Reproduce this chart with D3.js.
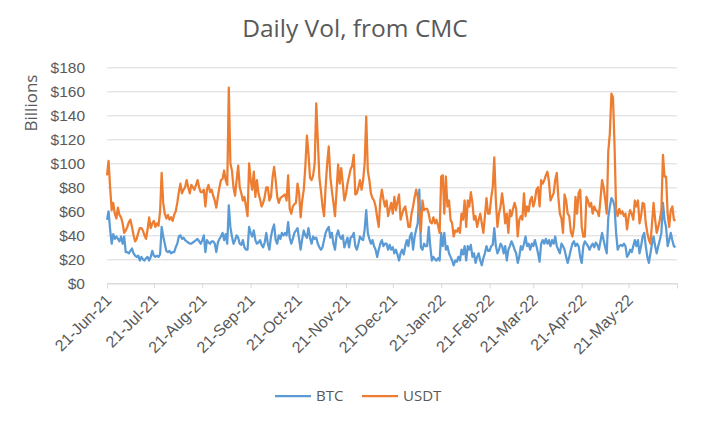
<!DOCTYPE html>
<html>
<head>
<meta charset="utf-8">
<script src="https://cdn.jsdelivr.net/npm/d3@7"></script>
<style>
  body { margin: 0; background: #fff; }
  svg { font-family: "Open Sans", sans-serif; }
  .grid line { stroke: #d9d9d9; }
  .tick text { fill: #595959; }
</style>
</head>
<body>
<div id="viz"></div>
<script>

// daily volume in $ billions, one value per day from 21-Jun-21
var startDate = new Date(2021, 5, 21);
var endDate = new Date(2022, 5, 21);

var seriesNames = ["BTC", "USDT"];
var seriesColors = ["#5b9bd5", "#ed7d31"];

var btc = [
	53,60,45,33,41,37,39,37,35,39, 33,39,26,26,25,27,29,25,23,22,
	23,19,22,20,19,21,22,19,22,27, 23,22,23,22,24,47,39,33,27,26,
	27,25,26,26,30,33,39,40,37,38, 36,35,34,33,33,34,35,36,37,35,
	33,36,40,26,36,34,33,35,35,33, 26,34,37,39,42,36,41,33,65,47,
	39,33,36,40,38,33,32,36,30,28, 28,47,42,39,44,36,33,34,36,32,
	30,34,42,33,28,39,45,49,36,33, 40,37,42,40,42,40,51,38,33,37,
	42,44,46,37,28,37,44,40,38,46, 38,33,39,37,38,33,30,28,30,36,
	42,45,47,38,42,33,28,40,44,39, 37,40,30,34,38,30,38,39,42,31,
	28,33,39,37,36,45,61,42,37,33, 36,31,28,22,28,33,36,31,33,33,
	28,32,28,30,25,28,24,19,25,28, 24,31,36,31,39,42,28,39,45,50,
	78,30,28,33,31,31,47,31,19,22, 20,19,21,19,42,31,42,28,31,25,
	22,19,15,19,18,22,19,28,24,31, 19,31,28,32,22,25,17,22,25,19,
	15,21,25,31,27,27,31,32,46,31, 25,28,33,31,25,31,19,28,31,35,
	32,28,25,17,22,31,28,33,39,31, 33,28,33,31,36,31,25,18,33,36,
	33,37,33,36,31,36,33,39,31,28, 25,33,31,28,22,17,22,28,33,35,
	31,33,31,22,17,31,35,33,31,28, 31,33,30,34,32,28,35,42,36,30,
	25,55,64,71,69,64,42,28,31,32, 31,33,31,22,24,28,26,31,36,31,
	36,25,31,39,42,31,22,17,25,33, 39,31,25,31,36,42,67,53,47,31,
	36,42,36,31,30
];

var usdt = [
	90,102,80,61,67,58,54,63,57,55, 50,42,44,47,51,53,47,40,35,37,
	42,46,46,44,40,37,45,55,46,50, 52,47,50,48,60,92,67,58,54,57,
	53,55,52,57,60,67,76,83,75,78, 80,86,80,75,82,80,78,82,86,80,
	76,76,78,64,78,82,76,78,73,69, 63,72,80,86,87,94,86,82,163,100,
	94,80,73,86,98,80,75,69,72,64, 56,100,86,78,93,72,86,75,70,64,
	67,72,80,80,69,72,88,97,86,72, 67,71,72,73,74,69,90,62,58,64,
	66,67,83,75,55,69,78,97,123,108, 88,86,90,100,150,119,88,77,64,56,
	80,100,114,89,77,67,56,77,99,83, 96,83,69,74,83,89,95,98,107,74,
	75,80,86,78,86,100,139,94,86,75, 71,69,64,55,47,69,78,70,64,69,
	56,62,67,58,72,61,68,74,53,58, 62,64,56,47,47,58,64,72,78,72,
	60,43,69,61,62,62,58,51,50,55, 50,53,48,42,89,90,58,89,64,69,
	53,50,39,44,43,46,42,58,53,69, 47,69,64,76,67,53,56,47,53,58,
	50,42,56,71,58,58,71,80,105,69, 47,58,64,75,64,50,58,42,61,56,
	62,67,62,39,53,56,53,75,56,64, 60,69,72,64,69,78,80,64,86,83,
	86,90,93,85,69,72,75,86,92,72, 58,54,42,74,69,58,56,43,39,47,
	72,58,75,78,47,39,39,72,69,64, 67,58,64,61,60,56,70,86,80,70,
	58,110,125,158,155,115,62,56,62,58, 60,56,58,45,55,61,58,53,69,64,
	69,50,56,67,66,50,42,36,33,50, 67,53,42,47,53,61,107,89,89,58,
	47,61,64,53,52
];

var yTicks = [0, 20, 40, 60, 80, 100, 120, 140, 160, 180];

var width = 713;
var height = 423;
var plotLeft = 107, plotRight = 677, plotTop = 67.3, plotBottom = 283.3;

var svg = d3.select("#viz")
	.append("svg")
	.attr("width", width)
	.attr("height", height);

var x = d3.scaleTime()
	.domain([startDate, endDate])
	.range([plotLeft, plotRight]);

var y = d3.scaleLinear()
	.domain([0, 180])
	.range([plotBottom, plotTop]);

// title
svg.append("text")
	.attr("x", 355)
	.attr("y", 36.5)
	.attr("text-anchor", "middle")
	.style("font-size", "24.5px")
	.style("fill", "#595959")
	.text("Daily Vol, from CMC");

// y axis label
svg.append("text")
	.attr("transform", "translate(37,103) rotate(-90)")
	.attr("text-anchor", "middle")
	.style("font-size", "17px")
	.style("fill", "#595959")
	.text("Billions");

// y gridlines + labels
var yAxis = svg.append("g")
	.attr("class", "grid")
	.attr("transform", "translate(" + plotLeft + ",0)")
	.call(d3.axisLeft(y)
		.tickValues(yTicks)
		.tickSize(-(plotRight - plotLeft))
		.tickPadding(22)
		.tickFormat(d => "$" + d));
yAxis.select(".domain").remove();
yAxis.selectAll("text").style("font-size", "15.5px");

// x axis with monthly ticks on the 21st
var months = d3.range(13).map(i => new Date(2021, 5 + i, 21));
var fmt = d3.timeFormat("%d-%b-%y");

var xAxis = svg.append("g")
	.attr("transform", "translate(0," + plotBottom + ")")
	.call(d3.axisBottom(x)
		.tickValues(months)
		.tickSize(5)
		.tickFormat(d => d < endDate ? fmt(d) : ""));
xAxis.select(".domain").attr("stroke", "#d9d9d9");
xAxis.selectAll(".tick line").attr("stroke", "#d9d9d9");
xAxis.selectAll("text")
	.style("font-size", "16px")
	.attr("text-anchor", "end")
	.attr("y", 0)
	.attr("dy", "0.35em")
	.attr("transform", "translate(1,14) rotate(-45)");

// lines
var series = [btc, usdt];
var line = d3.line()
	.x((d, i) => x(d3.timeDay.offset(startDate, i)))
	.y(d => y(d));

svg.selectAll("path.series")
	.data(series)
	.enter()
	.append("path")
	.attr("class", "series")
	.attr("fill", "none")
	.attr("stroke", (d, i) => seriesColors[i])
	.attr("stroke-width", 2.25)
	.attr("stroke-linejoin", "round")
	.attr("d", line);

// legend
var legendX = [275, 362];
var legend = svg.selectAll("g.legend")
	.data(seriesNames)
	.enter()
	.append("g")
	.attr("class", "legend")
	.attr("transform", (d, i) => "translate(" + legendX[i] + ",396)");

legend.append("line")
	.attr("x1", 0)
	.attr("x2", 36)
	.attr("stroke", (d, i) => seriesColors[i])
	.attr("stroke-width", 2.25);

legend.append("text")
	.attr("x", 41)
	.attr("dy", "0.35em")
	.style("font-size", "15px")
	.style("fill", "#595959")
	.text(d => d);

</script>
</body>
</html>
